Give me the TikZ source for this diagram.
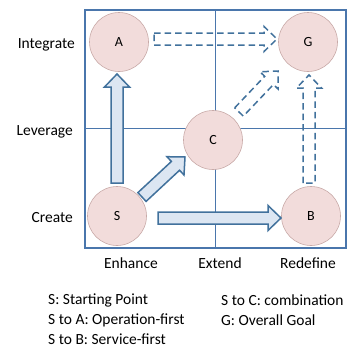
\documentclass[tikz,border=0pt]{standalone}
\usepackage{fontspec}
\setmainfont{Carlito}
\usetikzlibrary{calc}
\definecolor{boxblue}{HTML}{4A76AC}
\definecolor{arrowline}{HTML}{41719C}
\definecolor{arrowfill}{HTML}{DCE6F2}
\definecolor{circfill}{HTML}{F2DCDB}
\definecolor{circline}{HTML}{C8AAA8}
\tikzset{
  grid box/.style={draw=boxblue, line width=2pt},
  grid div/.style={draw=boxblue, line width=1pt},
  pt/.style={circle, fill=circfill, draw=circline, line width=0.6pt, minimum size=59pt, inner sep=0pt, font=\fontsize{14}{16}\selectfont},
  lbl/.style={font=\fontsize{15.5}{18}\selectfont, inner sep=0pt},
  solidarrow/.style={draw=arrowline, fill=arrowfill, line width=1.5pt, line join=miter},
  dasharrow/.style={draw=arrowline, line width=1.5pt, dash pattern=on 6.5pt off 4pt},
}
% block arrow from #2 to #3 with style #1
\newcommand{\blockarr}[3]{%
  \path[#1] ($(#2)!6pt!90:(#3)$)
    -- ($($(#3)!13pt!(#2)$)!6pt!-90:(#2)$)
    -- ($($(#3)!13pt!(#2)$)!12.5pt!-90:(#2)$)
    -- (#3)
    -- ($($(#3)!13pt!(#2)$)!12.5pt!90:(#2)$)
    -- ($($(#3)!13pt!(#2)$)!6pt!90:(#2)$)
    -- ($(#2)!6pt!-90:(#3)$) -- cycle;}
\begin{document}
\begin{tikzpicture}[x=1pt,y=-1pt]
\useasboundingbox (0,0) rectangle (351,348);
% grid
\draw[grid div] (215,10) -- (215,248);
\draw[grid div] (85,128) -- (346,128);
\draw[grid box] (85,10) rectangle (346,248);
% points
\node[pt] (A) at (119,42) {A};
\node[pt] (G) at (308,42) {G};
\node[pt] (C) at (213,140) {C};
\node[pt] (S) at (117,216) {S};
\node[pt] (B) at (311,216) {B};
% arrow endpoints
\coordinate (sa1) at ($(S)+(0,-33)$);
\coordinate (sa2) at ($(S)+(0,-142)$);
\coordinate (sb1) at ($(S)+(41,2)$);
\coordinate (sb2) at ($(B)+(-30,2)$);
\coordinate (sc1) at ($(S)+(25,-19)$);
\coordinate (sc2) at ($(C)+(-28,17)$);
\coordinate (cg1) at ($(C)+(26,-28)$);
\coordinate (cg2) at ($(G)+(-30,29)$);
\coordinate (ag1) at ($(A)+(35,-3)$);
\coordinate (ag2) at ($(G)+(-31,-3)$);
\coordinate (bg1) at ($(B)+(-2,-33)$);
\coordinate (bg2) at ($(G)+(1,33)$);
\blockarr{solidarrow}{sa1}{sa2}
\blockarr{solidarrow}{sb1}{sb2}
\blockarr{solidarrow}{sc1}{sc2}
\blockarr{dasharrow}{cg1}{cg2}
\blockarr{dasharrow}{ag1}{ag2}
\blockarr{dasharrow}{bg1}{bg2}
% axis labels
\node[lbl, anchor=east] (li) at (75,45) {Integrate};
\node[lbl, anchor=east] (ll) at (73,132) {Leverage};
\node[lbl, anchor=east] (lc) at (73,218) {Create};
\node[lbl] (le) at (131,263) {Enhance};
\node[lbl] (lx) at (220,263) {Extend};
\node[lbl] (lr) at (308,263) {Redefine};
% legend
\node[lbl, anchor=west] (g1) at (48,300) {S: Starting Point};
\node[lbl, anchor=west] (g2) at (48,320) {S to A: Operation-first};
\node[lbl, anchor=west] (g3) at (48,339) {S to B: Service-first};
\node[lbl, anchor=west] (g4) at (221,300) {S to C: combination};
\node[lbl, anchor=west] (g5) at (221,320) {G: Overall Goal};
\end{tikzpicture}
\end{document}
